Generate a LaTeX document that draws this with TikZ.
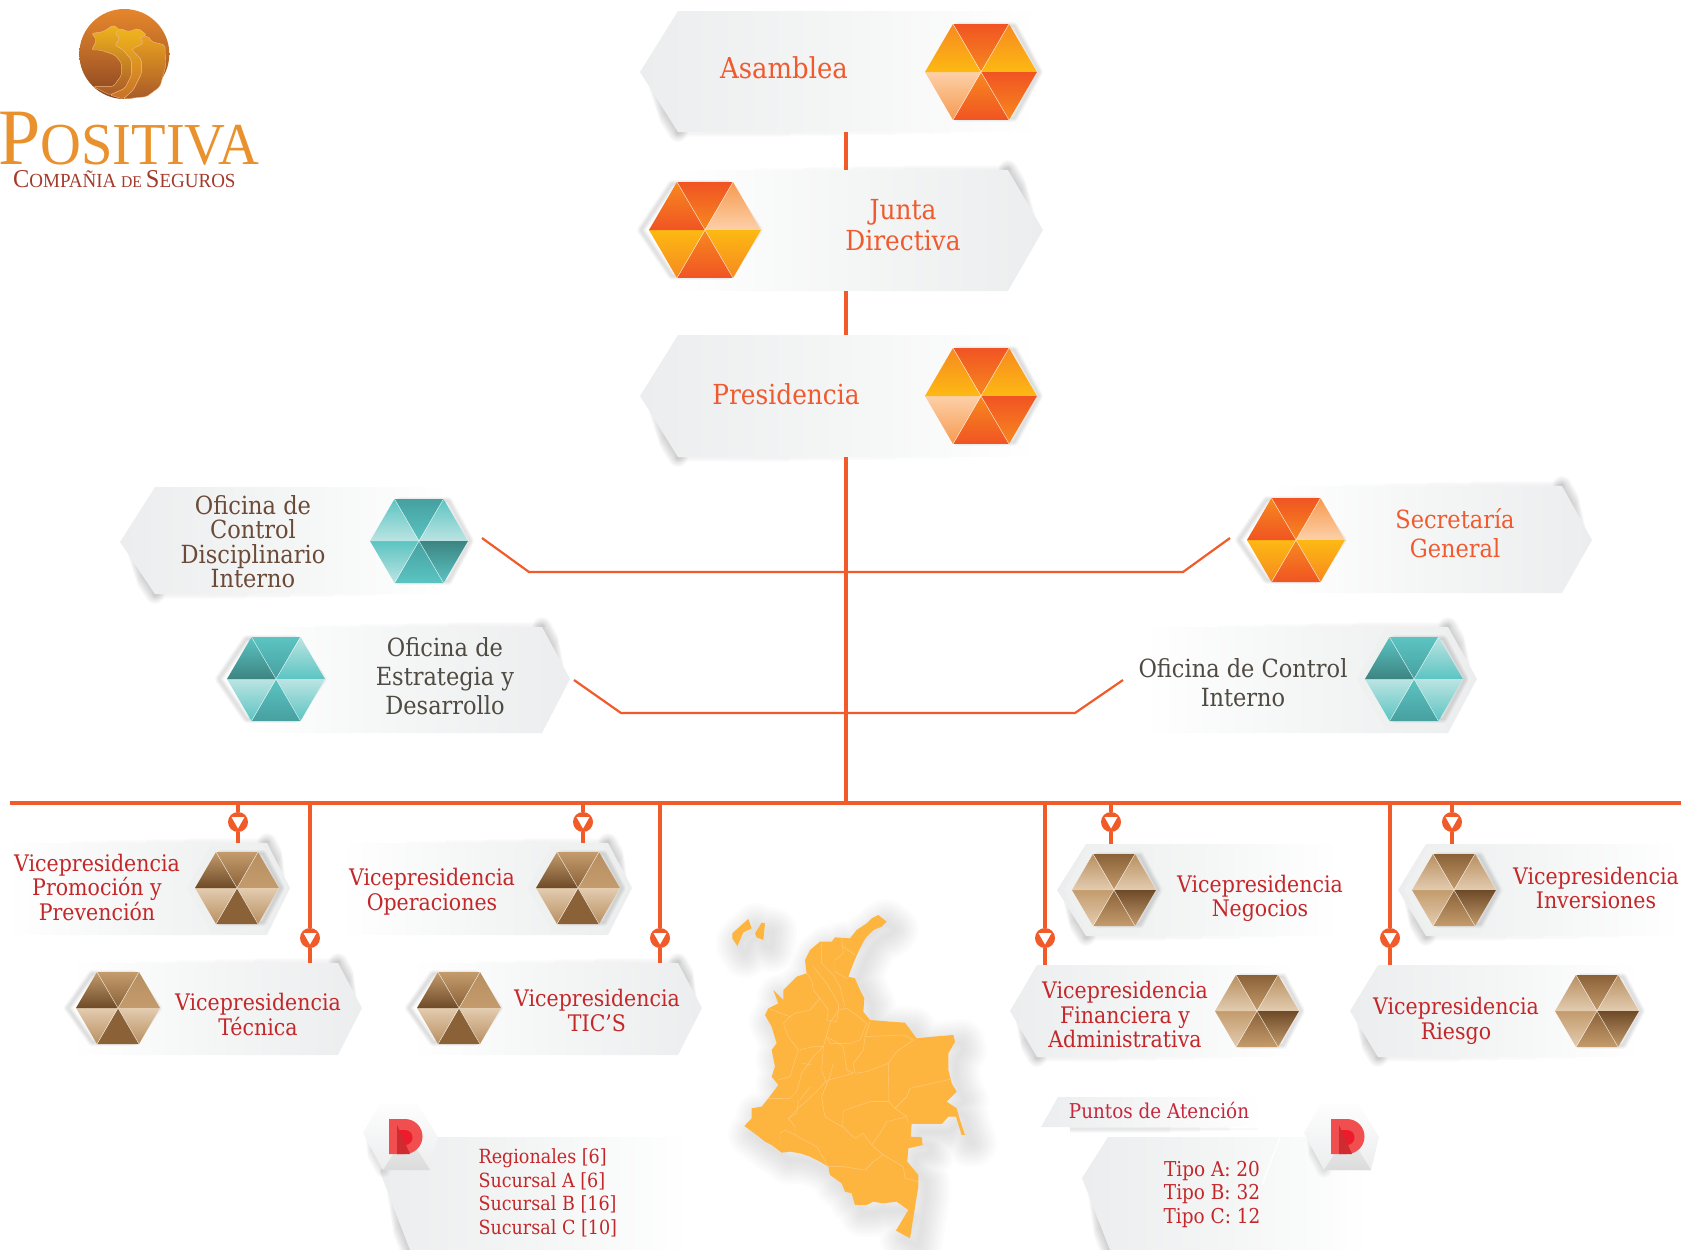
\documentclass[tikz,border=0pt]{standalone}
\usepackage{fontspec}
\setmainfont[FakeStretch=0.9]{DejaVu Serif}
\newfontfamily\logofont[FakeStretch=0.95]{Liberation Serif}
\usetikzlibrary{fit}
% palette colours
\definecolor{lineorange}{HTML}{F15A29}
\definecolor{txtorange}{HTML}{F15A2E}
\definecolor{txtred}{HTML}{C4272A}
\definecolor{txtbrown}{HTML}{6B4A38}
\definecolor{txtgrey}{HTML}{4F4B42}
\definecolor{bandgrey}{HTML}{ECEDEE}
\definecolor{bandmid}{HTML}{F4F5F5}
\definecolor{mapfill}{HTML}{FDB540}
\definecolor{mapline}{HTML}{FFCB7C}
\definecolor{ltop}{HTML}{E5862B}\definecolor{lmid}{HTML}{BC6A28}\definecolor{lbot}{HTML}{8A4420}
\definecolor{goldA}{HTML}{EFB41C}\definecolor{goldB}{HTML}{E9A020}\definecolor{cornB}{HTML}{C87028}\definecolor{cornC}{HTML}{A85A28}\definecolor{cornL}{HTML}{F0B880}
\definecolor{logoorange}{HTML}{E8912D}\definecolor{logored}{HTML}{A33A2C}\definecolor{redpuntos}{HTML}{C5283D}
\definecolor{oa}{HTML}{F05423}\definecolor{ob}{HTML}{F7891F}\definecolor{oc}{HTML}{FDB913}\definecolor{od}{HTML}{FCD0A8}\definecolor{oe}{HTML}{F79A50}
\definecolor{ta}{HTML}{46A0A0}\definecolor{tb}{HTML}{5BC4C2}\definecolor{tc}{HTML}{BCE4E2}\definecolor{td}{HTML}{3D8482}
\definecolor{ba}{HTML}{C39B6C}\definecolor{bb}{HTML}{8B6238}\definecolor{bc}{HTML}{E3CCB0}\definecolor{bd}{HTML}{6E4A28}\definecolor{be}{HTML}{B88F60}
\definecolor{redbadge}{HTML}{F14E50}\definecolor{redmid}{HTML}{ED1C2C}\definecolor{reddeep}{HTML}{CF2B30}
% six-triangle palettes (top/bottom colour of each facet)
\colorlet{orAT1}{oa}\colorlet{orAT2}{ob}\colorlet{orAR1}{ob}\colorlet{orAR2}{oc}\colorlet{orABR1}{oa}\colorlet{orABR2}{ob}\colorlet{orAB1}{ob}\colorlet{orAB2}{oa}\colorlet{orABL1}{od}\colorlet{orABL2}{oe}\colorlet{orAL1}{ob}\colorlet{orAL2}{oc}
\colorlet{orJT1}{oa}\colorlet{orJT2}{ob}\colorlet{orJR1}{oe}\colorlet{orJR2}{od}\colorlet{orJBR1}{oc}\colorlet{orJBR2}{ob}\colorlet{orJB1}{ob}\colorlet{orJB2}{oa}\colorlet{orJBL1}{oc}\colorlet{orJBL2}{ob}\colorlet{orJL1}{ob}\colorlet{orJL2}{oa}
\colorlet{tdT1}{ta}\colorlet{tdT2}{tb}\colorlet{tdR1}{tb}\colorlet{tdR2}{tc}\colorlet{tdBR1}{td}\colorlet{tdBR2}{tb}\colorlet{tdB1}{ta}\colorlet{tdB2}{tb}\colorlet{tdBL1}{tb}\colorlet{tdBL2}{tc}\colorlet{tdL1}{tb}\colorlet{tdL2}{tc}
\colorlet{teT1}{tb}\colorlet{teT2}{ta}\colorlet{teR1}{tc}\colorlet{teR2}{tb}\colorlet{teBR1}{tc}\colorlet{teBR2}{tb}\colorlet{teB1}{tb}\colorlet{teB2}{ta}\colorlet{teBL1}{tc}\colorlet{teBL2}{tb}\colorlet{teL1}{tb}\colorlet{teL2}{td}
\colorlet{blT1}{ba}\colorlet{blT2}{bb}\colorlet{blR1}{be}\colorlet{blR2}{ba}\colorlet{blBR1}{bc}\colorlet{blBR2}{be}\colorlet{blB1}{bb}\colorlet{blB2}{bb}\colorlet{blBL1}{bc}\colorlet{blBL2}{be}\colorlet{blL1}{ba}\colorlet{blL2}{bd}
\colorlet{brT1}{bb}\colorlet{brT2}{ba}\colorlet{brR1}{be}\colorlet{brR2}{bc}\colorlet{brBR1}{bd}\colorlet{brBR2}{ba}\colorlet{brB1}{bb}\colorlet{brB2}{ba}\colorlet{brBL1}{ba}\colorlet{brBL2}{bc}\colorlet{brL1}{be}\colorlet{brL2}{bc}
\tikzset{
  conn/.style={draw=lineorange,line width=3.2pt},
  sideconn/.style={draw=lineorange,line width=2.2pt,line join=miter},
  bandbox/.style={rectangle,inner sep=0pt,outer sep=0pt,draw=none},
  toplabel/.style={text=txtorange,align=center,font=\fontsize{27.6}{31}\selectfont},
  sidelabel/.style={align=center,font=\fontsize{25}{#1}\selectfont},
  vplabel/.style={text=txtred,align=center,font=\fontsize{22.8}{24.5}\selectfont},
  listlabel/.style={text=txtred,align=left,font=\fontsize{19.5}{23.5}\selectfont},
  tagdot/.style={circle,fill=lineorange,minimum size=20pt,inner sep=0pt,draw=none},
  depline/.style={draw=mapline,line width=0.45pt,line join=round}
}
% band with its point on the left: name, xtip, ytip, xtop, xbot, xfar, ytop, ybot
\newcommand\bandL[8]{%
  \foreach \d/\f in {2/.25,4/.3,6/.36,8/.42,10/.48,12/.54,14/.6,16/.66,18/.72,20/.78}{\draw[black,opacity=.02,line width=\d pt,line cap=round] ({#2+\f*(#5-#2)},{#3+\f*(#8-#3)}) -- (#5,#8);}
  \foreach \d/\f in {2/.75,4/.6,6/.45,8/.3}{\draw[black,opacity=.012,line width=\d pt,line cap=round] (#5,#8+1) -- ({#5+\f*(#6-#5)},#8+1);}
  \shade[left color=bandgrey,right color=white,middle color=bandmid] (#2,#3) -- (#4,#7) -- (#6,#7) -- (#6,#8) -- (#5,#8) -- cycle;
  \coordinate (#1-a) at (#2,#7); \coordinate (#1-b) at (#6,#8);
  \node[bandbox,fit={(#1-a)(#1-b)}] (#1) {};
}
% band with its point on the right: name, xtip, ytip, xtop, xbot, xfar, ytop, ybot
\newcommand\bandR[8]{%
  \foreach \d/\f in {2/.25,4/.3,6/.36,8/.42,10/.48,12/.54,14/.6,16/.66,18/.72,20/.78}{\draw[black,opacity=.02,line width=\d pt,line cap=round] ({#2+\f*(#4-#2)},{#3+\f*(#7-#3)}) -- (#4,#7);}
  \foreach \d/\f in {2/.75,4/.6,6/.45,8/.3}{\draw[black,opacity=.012,line width=\d pt,line cap=round] (#4,#7-1) -- ({#4+\f*(#6-#4)},#7-1);}
  \shade[right color=bandgrey,left color=white,middle color=bandmid] (#2,#3) -- (#4,#7) -- (#6,#7) -- (#6,#8) -- (#5,#8) -- cycle;
  \coordinate (#1-a) at (#2,#7); \coordinate (#1-b) at (#6,#8);
  \node[bandbox,fit={(#1-a)(#1-b)}] (#1) {};
}
% hexagon of six shaded facets: cx, cy, r, palette, halo on/off, side of the shadow (+1/-1)
\newcommand\hexa[6]{%
  \pgfmathsetmacro\hr{#3}\pgfmathsetmacro\hh{#3*0.857}\pgfmathsetmacro\hs{#3/2}
  \ifnum#5=1 \fill[bandgrey!85!white] (#1-\hr-8,#2) -- (#1-\hs-5,#2-\hh-7) -- (#1+\hs+5,#2-\hh-7) -- (#1+\hr+8,#2) -- (#1+\hs+5,#2+\hh+7) -- (#1-\hs-5,#2+\hh+7) -- cycle; \fi
  \foreach \d in {2,4,6,8}{\draw[black,opacity=.03,line width=\d pt,line join=round,shift={(#6*5,0)}] (#1-\hr+#6*3,#2) -- (#1-\hs,#2-\hh+2) -- (#1+\hs,#2-\hh+2) -- (#1+\hr-#6*3,#2) -- (#1+\hs,#2+\hh-2) -- (#1-\hs,#2+\hh-2) -- cycle;}
  \fill[white] (#1-\hr,#2) -- (#1-\hs,#2-\hh) -- (#1+\hs,#2-\hh) -- (#1+\hr,#2) -- (#1+\hs,#2+\hh) -- (#1-\hs,#2+\hh) -- cycle;
  \shade[top color=#4T1,bottom color=#4T2] (#1,#2) -- (#1-\hs,#2-\hh) -- (#1+\hs,#2-\hh) -- cycle;
  \shade[top color=#4R1,bottom color=#4R2] (#1,#2) -- (#1+\hs,#2-\hh) -- (#1+\hr,#2) -- cycle;
  \shade[top color=#4BR1,bottom color=#4BR2] (#1,#2) -- (#1+\hr,#2) -- (#1+\hs,#2+\hh) -- cycle;
  \shade[top color=#4B1,bottom color=#4B2] (#1,#2) -- (#1+\hs,#2+\hh) -- (#1-\hs,#2+\hh) -- cycle;
  \shade[top color=#4BL1,bottom color=#4BL2] (#1,#2) -- (#1-\hs,#2+\hh) -- (#1-\hr,#2) -- cycle;
  \shade[top color=#4L1,bottom color=#4L2] (#1,#2) -- (#1-\hr,#2) -- (#1-\hs,#2-\hh) -- cycle;
  \draw[white,opacity=.7,line width=.5pt] (#1-\hs,#2-\hh) -- (#1+\hs,#2+\hh) (#1+\hs,#2-\hh) -- (#1-\hs,#2+\hh);
}
% marker on a connector
\newcommand\tagmark[3]{%
  \node[tagdot] (#1) at (#2,#3) {};
  \fill[white] ([shift={(-6.5,-5)}]#1.center) -- ([shift={(6.5,-5)}]#1.center) -- ([shift={(0,6.5)}]#1.center) -- cycle;
}
% D badge: x of the hexagon centre, x of the D
\newcommand\dbadge[2]{%
  \foreach \d/\f in {3/.2,6/.3,9/.4,12/.5,15/.6}{\draw[black,opacity=.022,line width=\d pt,line cap=round] ({#1-42+\f*20},{1133+\f*37}) -- (#1-22,1170);}
  \shade[top color=white!92!bandgrey,bottom color=bandgrey] (#1-42,1133) -- (#1-25,1103) -- (#1+12,1103) -- (#1+33,1137) -- (#1+25,1170) -- (#1-22,1170) -- cycle;
  \shade[top color=bandgrey,bottom color=black!14] (#1+2,1133) -- (#1+25,1170) -- (#1-22,1170) -- cycle;
  \fill[redbadge] (#2,1119) -- (#2+16,1119) arc[start angle=90,end angle=-90,radius=17.5pt] -- (#2,1154) -- cycle;
  \fill[redmid] (#2+8,1130) -- (#2+16,1130) arc[start angle=90,end angle=-90,radius=7.5pt] -- (#2+8,1145) -- cycle;
  \fill[reddeep] (#2+8,1125) -- (#2+21,1154) -- (#2+8,1154) -- cycle;
}
\newcommand\mapoutline{(535,45) -- (560,65) -- (545,80) -- (520,90) -- (500,110) -- (490,125) -- (475,155) -- (460,190) -- (445,230) -- (465,235) -- (480,270) -- (493,295) -- (490,335) -- (510,360) -- (570,365) -- (615,368) -- (650,415) -- (700,410) -- (760,405) -- (765,425) -- (745,460) -- (745,510) -- (755,550) -- (770,575) -- (740,605) -- (770,625) -- (780,660) -- (795,705) -- (785,705) -- (768,650) -- (745,650) -- (725,672) -- (635,672) -- (632,710) -- (665,712) -- (668,735) -- (625,745) -- (622,785) -- (655,825) -- (655,860) -- (630,1015) -- (588,992) -- (625,930) -- (590,905) -- (550,910) -- (520,905) -- (500,915) -- (465,915) -- (455,880) -- (435,875) -- (425,850) -- (390,825) -- (385,800) -- (360,785) -- (330,770) -- (300,760) -- (270,755) -- (245,758) -- (215,735) -- (195,725) -- (170,705) -- (133,678) -- (155,655) -- (155,625) -- (185,620) -- (205,595) -- (235,555) -- (215,530) -- (225,500) -- (215,450) -- (230,430) -- (215,380) -- (195,345) -- (205,325) -- (235,310) -- (220,270) -- (250,300) -- (250,270) -- (290,230) -- (320,220) -- (315,180) -- (330,150) -- (360,125) -- (395,125) -- (405,112) -- (450,115) -- (470,90) -- (500,70) -- (515,55) -- cycle
 (97,100) -- (130,70) -- (145,57) -- (155,85) -- (130,97) -- (112,138) -- (97,115) -- cycle
 (165,100) -- (185,68) -- (195,70) -- (190,120) -- (170,112) -- cycle}
\begin{document}
\begin{tikzpicture}[x=1pt,y=-1pt]
\useasboundingbox (0,0) rectangle (1681,1250);
\clip (0,0) rectangle (1681,1250);
% logo
\begin{scope}[shift={(0,0)},x=0.3333pt,y=-0.3333pt,rounded corners=2pt]
  \shade[top color=ltop,bottom color=lbot,middle color=lmid] (373,162) circle[radius=45pt];
  \shade[top color=goldA,bottom color=cornC,draw=cornL,line width=.4pt] (275,100) -- (310,95) -- (340,75) -- (360,90) -- (345,100) -- (360,115) -- (345,135) -- (370,150) -- (395,180) -- (395,225) -- (375,265) -- (330,285) -- (280,260) -- (340,260) -- (365,225) -- (365,190) -- (345,165) -- (300,150) -- (275,150) -- (290,120) -- cycle;
  \shade[top color=goldA,bottom color=cornB,draw=cornL,line width=.4pt] (345,100) -- (360,85) -- (385,95) -- (415,85) -- (440,105) -- (420,112) -- (430,130) -- (395,148) -- (425,180) -- (425,220) -- (400,270) -- (370,297) -- (330,285) -- (375,265) -- (395,225) -- (395,180) -- (370,150) -- (345,135) -- (360,115) -- cycle;
  \shade[top color=goldB,bottom color=cornC,draw=cornL,line width=.4pt] (395,148) -- (430,130) -- (420,112) -- (445,108) -- (455,125) -- (495,135) -- (497,200) -- (480,260) -- (440,290) -- (370,297) -- (400,270) -- (425,220) -- (425,180) -- cycle;
\end{scope}
\node[anchor=base west,inner sep=0pt,text=logoorange] (logoname) at (-2,164) {\logofont\fontsize{80}{80}\selectfont P\fontsize{59.5}{59.5}\selectfont OSITIVA};
\node[anchor=base west,inner sep=0pt,text=logored] (logosub) at (13,187) {\logofont\fontsize{25.7}{25.7}\selectfont C\fontsize{20}{20}\selectfont OMPAÑIA \fontsize{16.5}{16.5}\selectfont DE \fontsize{25.7}{25.7}\selectfont S\fontsize{20}{20}\selectfont EGUROS};
% map
\begin{scope}[shift={(700,900)},x=0.3333pt,y=-0.3333pt]
  \foreach \w in {4,8,...,48}{\draw[black!65,opacity=.014,line width=\w pt,line join=round,shift={(24,24)}] \mapoutline;}
  \fill[mapfill] \mapoutline;
  \draw[depline] (495,410) -- (610,405) -- (640,420) -- (590,455) -- (565,490) -- (500,515) -- (465,520) -- (460,490) -- (490,450) -- (495,410);
  \draw[depline] (510,365) -- (495,410);
  \draw[depline] (565,490) -- (567,605);
  \draw[depline] (460,520) -- (385,540) -- (365,590) -- (370,625) -- (375,650) -- (425,680);
  \draw[depline] (430,632) -- (510,605) -- (567,605) -- (585,625) -- (620,650) -- (625,670);
  \draw[depline] (430,632) -- (428,680) -- (465,715) -- (490,700) -- (515,735) -- (550,765) -- (520,785) -- (495,810) -- (430,800) -- (385,800);
  \draw[depline] (620,650) -- (560,665) -- (540,700) -- (515,735);
  \draw[depline] (550,765) -- (610,800) -- (615,835) -- (655,845);
  \draw[depline] (585,625) -- (620,590) -- (630,565) -- (750,538);
  \draw[depline] (265,655) -- (300,620) -- (350,575) -- (380,540);
  \draw[depline] (285,705) -- (350,740) -- (385,800);
  \draw[depline] (240,735) -- (240,700) -- (255,690) -- (285,705) -- (285,680) -- (265,655);
  \draw[depline] (205,595) -- (270,595) -- (290,575) -- (305,520) -- (340,470) -- (370,440);
  \draw[depline] (370,440) -- (390,370) -- (415,330) -- (440,325) -- (470,345) -- (500,370);
  \draw[depline] (250,370) -- (265,410) -- (295,450) -- (285,480) -- (270,530) -- (235,540);
  \draw[depline] (285,340) -- (330,330) -- (360,295) -- (340,270) -- (335,240) -- (320,220);
  \draw[depline] (205,325) -- (270,350) -- (250,370);
  \draw[depline] (270,350) -- (285,340);
  \draw[depline] (360,295) -- (385,330) -- (380,360) -- (410,365) -- (415,330);
  \draw[depline] (340,200) -- (380,250) -- (415,310) -- (415,330);
  \draw[depline] (365,130) -- (365,190) -- (400,225) -- (420,260) -- (435,320);
  \draw[depline] (425,115) -- (430,160) -- (405,180) -- (405,215) -- (440,235);
  \draw[depline] (430,140) -- (465,165);
  \draw[depline] (370,440) -- (365,510) -- (380,550);
  \draw[depline] (380,410) -- (430,440) -- (440,510) -- (460,520);
  \draw[depline] (500,370) -- (480,420) -- (450,430) -- (390,430) -- (380,410);
  \draw[depline] (295,450) -- (340,440) -- (370,440);
  \draw[depline] (305,490) -- (335,495);
  \draw[depline] (295,600) -- (290,640) -- (265,655);
  \draw[depline] (400,490) -- (385,545);
  \draw[depline] (330,560) -- (300,600);
\end{scope}
% bands
\bandL{asamblea}{640}{72}{678}{678}{1040}{11}{132}
\bandR{junta}{1043}{230}{1008}{1008}{670}{170}{291}
\bandL{presidencia}{640}{396}{678}{678}{1040}{335}{457}
\bandL{disciplinario}{120}{542}{155}{155}{450}{487}{594}
\bandR{secretaria}{1592}{540}{1562}{1562}{1270}{486}{593}
\bandR{estrategia}{570}{679}{542}{542}{240}{627}{733}
\bandR{controlint}{1477}{679}{1448}{1448}{1143}{627}{733}
\bandR{promocion}{290}{888}{267}{267}{5}{843}{935}
\bandR{tecnica}{362}{1008}{338}{338}{70}{963}{1055}
\bandR{operaciones}{632}{888}{608}{608}{340}{843}{935}
\bandR{tics}{702}{1008}{678}{678}{410}{963}{1055}
\bandL{negocios}{1057}{890}{1086}{1086}{1339}{844}{936}
\bandL{financiera}{1010}{1011}{1037}{1037}{1296}{965}{1057}
\bandL{inversiones}{1398}{890}{1426}{1426}{1681}{844}{936}
\bandL{riesgo}{1350}{1011}{1378}{1378}{1640}{965}{1057}
\bandL{regionales}{380}{1172}{397}{410}{690}{1137}{1250}
\bandL{tipos}{1082}{1178}{1108}{1110}{1370}{1137}{1250}
\draw[white,line width=1.2pt] (1280,1137) -- (1262,1185);
% Puntos de Atencion strip
\foreach \d/\f in {2/1258,4/1230,6/1200,8/1170}{\draw[black,opacity=.022,line width=\d pt] (1070,1129) -- (\f,1129);}
\shade[left color=bandgrey,right color=white] (1058,1097) -- (1263,1097) -- (1263,1127) -- (1041,1127) -- cycle;
\coordinate (puntos-a) at (1041,1097); \coordinate (puntos-b) at (1263,1127);
\node[bandbox,fit={(puntos-a)(puntos-b)}] (puntos) {};
% hexagons
\hexa{981}{72}{56}{orA}{0}{1}
\hexa{705}{230}{56}{orJ}{0}{-1}
\hexa{981}{396}{56}{orA}{0}{1}
\hexa{419}{541}{49}{td}{0}{1}
\hexa{1296}{540}{49}{orJ}{0}{-1}
\hexa{276}{679}{49}{te}{0}{-1}
\hexa{1414}{679}{49}{te}{1}{1}
\hexa{237}{888}{42}{bl}{1}{1}
\hexa{118}{1008}{42}{bl}{0}{-1}
\hexa{578}{888}{42}{bl}{1}{1}
\hexa{459}{1008}{42}{bl}{0}{-1}
\hexa{1114}{890}{42}{br}{1}{1}
\hexa{1257}{1011}{42}{br}{0}{1}
\hexa{1454}{890}{42}{br}{1}{1}
\hexa{1597}{1011}{42}{br}{0}{1}
\dbadge{405}{389}
\dbadge{1346}{1331}
% connectors
\coordinate (trunk) at (846,0);
\coordinate (busL) at (10,803);
\coordinate (busR) at (1681,803);
\coordinate (discEnd) at (482,538); \coordinate (discElbow) at (529,572);
\coordinate (secElbow) at (1183,572); \coordinate (secEnd) at (1230,538);
\coordinate (estEnd) at (574,680); \coordinate (estElbow) at (621,713);
\coordinate (ciElbow) at (1075,713); \coordinate (ciEnd) at (1123,680);
\draw[conn] (asamblea.south -| trunk) -- (junta.north -| trunk);
\draw[conn] (junta.south -| trunk) -- (presidencia.north -| trunk);
\draw[conn] (presidencia.south -| trunk) -- (trunk |- busL);
\draw[sideconn] (discEnd) -- (discElbow) -- (secElbow) -- (secEnd);
\draw[sideconn] (estEnd) -- (estElbow) -- (ciElbow) -- (ciEnd);
\draw[conn] (busL) -- (busR);
\tagmark{tagPromocion}{238}{822}
\tagmark{tagTecnica}{310}{938}
\tagmark{tagOperaciones}{583}{822}
\tagmark{tagTics}{660}{938}
\tagmark{tagNegocios}{1111}{822}
\tagmark{tagFinanciera}{1045}{938}
\tagmark{tagInversiones}{1452}{822}
\tagmark{tagRiesgo}{1390}{938}
\foreach \t/\b in {tagPromocion/promocion,tagTecnica/tecnica,tagOperaciones/operaciones,tagTics/tics,tagNegocios/negocios,tagFinanciera/financiera,tagInversiones/inversiones,tagRiesgo/riesgo}{
  \draw[conn] (\t |- busL) -- (\t.north);
  \draw[conn] (\t.south) -- (\t |- \b.north);
}
% labels
\node[toplabel,font=\fontsize{28.8}{31}\selectfont] (tAsamblea) at (784,68) {Asamblea};
\node[toplabel] (tJunta) at (903,225.5) {Junta\\Directiva};
\node[toplabel] (tPresidencia) at (786,394) {Presidencia};
\node[sidelabel=24.5,text=txtbrown] (tDisc) at (253,541.5) {Oficina de\\Control\\Disciplinario\\Interno};
\node[sidelabel=29,text=txtorange] (tSec) at (1455,533.5) {Secretaría\\General};
\node[sidelabel=29,text=txtgrey] (tEst) at (445,676) {Oficina de\\Estrategia y\\Desarrollo};
\node[sidelabel=29,text=txtgrey] (tCI) at (1243,682.5) {Oficina de Control\\Interno};
\node[vplabel] (tPromocion) at (97,887) {Vicepresidencia\\Promoción y\\Prevención};
\node[vplabel] (tTecnica) at (258,1014.5) {Vicepresidencia\\Técnica};
\node[vplabel] (tOperaciones) at (432,891.5) {Vicepresidencia\\Operaciones};
\node[vplabel] (tTics) at (597,1010.5) {Vicepresidencia\\TIC'S};
\node[vplabel] (tNegocios) at (1260,898.5) {Vicepresidencia\\Negocios};
\node[vplabel] (tFinanciera) at (1125,1014.5) {Vicepresidencia\\Financiera y\\Administrativa};
\node[vplabel] (tInversiones) at (1596,888) {Vicepresidencia\\Inversiones};
\node[vplabel] (tRiesgo) at (1456,1021) {Vicepresidencia\\Riesgo};
\node[listlabel,anchor=west] (tRegionales) at (475,1193) {Regionales [6]\\Sucursal A [6]\\Sucursal B [16]\\Sucursal C [10]};
\node[listlabel,align=center,font=\fontsize{20.5}{23.5}\selectfont] (tTipos) at (1212,1194.5) {Tipo A: 20\\Tipo B: 32\\Tipo C: 12};
\node[text=redpuntos,font=\fontsize{20.4}{23}\selectfont] (tPuntos) at (1159,1110) {Puntos de Atención};
\end{tikzpicture}
\end{document}
